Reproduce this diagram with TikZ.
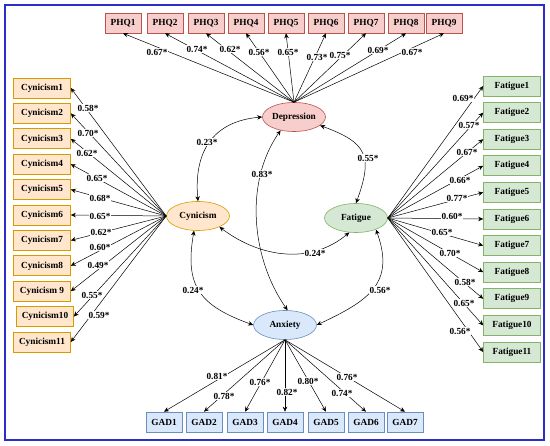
\documentclass[tikz,border=0pt]{standalone}
\usepackage{fontspec}
\setmainfont{Liberation Serif}
\usetikzlibrary{arrows.meta,shapes.geometric}
\definecolor{frameblue}{RGB}{45,45,200}
\definecolor{depfill}{RGB}{248,206,204}
\definecolor{depline}{RGB}{184,84,80}
\definecolor{cynfill}{RGB}{255,230,204}
\definecolor{cynline}{RGB}{215,155,0}
\definecolor{fatfill}{RGB}{213,232,212}
\definecolor{fatline}{RGB}{130,179,102}
\definecolor{anxfill}{RGB}{218,232,252}
\definecolor{anxline}{RGB}{108,142,191}
\tikzset{
  every node/.style={font=\fontsize{9.3}{11}\selectfont\bfseries},
  item/.style={rectangle, line width=0.6pt, minimum height=20pt, inner sep=1pt},
  latent/.style={ellipse, line width=0.6pt, minimum width=63pt, minimum height=29pt, inner sep=0pt},
  load/.style={-{Stealth[length=5pt,width=4.5pt]}, line width=0.5pt},
  corr/.style={{Stealth[length=5pt,width=4.5pt]}-{Stealth[length=5pt,width=4.5pt]}, line width=0.5pt},
  coef/.style={fill=white, inner sep=0.6pt}
}

\begin{document}
\begin{tikzpicture}[x=1pt,y=-1pt]
    \useasboundingbox (0,0) rectangle (550,446);
    \draw[frameblue, line width=1.6pt] (5,5) rectangle (544,440);

    % latent factors
    \node[latent, fill=depfill, draw=depline] (dep) at (294,117) {Depression};
    \node[latent, fill=cynfill, draw=cynline] (cyn) at (198,216) {Cynicism};
    \node[latent, fill=fatfill, draw=fatline] (fat) at (356,218) {Fatigue};
    \node[latent, fill=anxfill, draw=anxline] (anx) at (285,325) {Anxiety};

    % indicators
    \foreach \i/\x in {1/123,2/165,3/206,4/246,5/286,6/326,7/366,8/406,9/444}
      \node[item, minimum width=36pt, fill=depfill, draw=depline] (phq\i) at (\x,23) {PHQ\i};
    \foreach \i/\x/\t in {1/42/Cynicism1,2/42/Cynicism2,3/42/Cynicism3,4/42/Cynicism4,
                          5/42/Cynicism5,6/42/Cynicism6,7/42/Cynicism7,8/42/Cynicism8,
                          9/42/Cynicism 9,10/45/Cynicism10,11/42/Cynicism11}
      \node[item, minimum width=57pt, fill=cynfill, draw=cynline] (cyn\i) at (\x,{88+25.4*(\i-1)}) {\t};
    \foreach \i in {1,...,11}
      \node[item, minimum width=57pt, fill=fatfill, draw=fatline] (fat\i) at (512,{86+26.6*(\i-1)}) {Fatigue\i};
    \foreach \i/\x in {1/164,2/204,3/245,4/285,5/326,6/366,7/405}
      \node[item, minimum width=36pt, fill=anxfill, draw=anxline] (gad\i) at (\x,422) {GAD\i};

    % loadings
    \foreach \i in {1,...,9} \draw[load] (dep.north) -- (phq\i.south);
    \foreach \i in {1,...,11} \draw[load] (cyn.west) -- (cyn\i.east);
    \foreach \i in {1,...,11} \draw[load] (fat.east) -- (fat\i.west);
    \foreach \i in {1,...,7} \draw[load] (anx.south) -- (gad\i.north);

    % correlations
    \draw[corr] (cyn.north) to[out=95, in=185, looseness=1.2] (dep.west);
    \draw[corr] (dep.-18) to[out=-20, in=70, looseness=1.5] (fat.north);
    \draw[corr] (dep.-135) to[out=235, in=125, looseness=0.9] (anx.80);
    \draw[corr] (cyn.-27) to[out=-37, in=220] (fat.-115);
    \draw[corr] (cyn.-105) to[out=-100, in=160, looseness=1.3] (anx.west);
    \draw[corr] (fat.-30) to[out=-70, in=25, looseness=1.3] (anx.east);

    % coefficients
    \foreach \i/\x/\y/\v in {1/157/52/0.67*,2/197/49/0.74*,3/230/49/0.62*,4/259/52/0.56*,5/288/52/0.65*,
                             6/317/57/0.73*,7/340/55/0.75*,8/378/50/0.69*,9/412/52/0.67*}
      \node[coef] (lphq\i) at (\x,\y) {\v};
    \foreach \i/\x/\y/\v in {1/88/108/0.58*,2/88/133/0.70*,3/87/153/0.62*,4/97/178/0.65*,5/100/198/0.68*,
                             6/100/216/0.65*,7/101/232/0.62*,8/100/247/0.60*,9/98/265/0.49*,
                             10/92/295/0.55*,11/99/315/0.59*}
      \node[coef] (lcyn\i) at (\x,\y) {\v};
    \foreach \i/\x/\y/\v in {1/463/98/0.69*,2/469/125/0.57*,3/467/152/0.67*,4/460/180/0.66*,5/457/198/0.77*,
                             6/452/216/0.60*,7/442/232/0.65*,8/450/253/0.70*,9/465/282/0.58*,
                             10/464/303/0.65*,11/460/331/0.56*}
      \node[coef] (lfat\i) at (\x,\y) {\v};
    \foreach \i/\x/\y/\v in {1/217/376/0.81*,2/224/396/0.78*,3/260/382/0.76*,4/287/392/0.82*,
                             5/308/381/0.80*,6/342/393/0.74*,7/347/377/0.76*}
      \node[coef] (lgad\i) at (\x,\y) {\v};
    \node[coef] (rcd) at (207,142) {0.23*};
    \node[coef] (rdf) at (368,158) {0.55*};
    \node[coef] (rda) at (262,174) {0.83*};
    \node[coef] (rcf) at (315,253) {0.24*};
    \node[coef] (rca) at (193,290) {0.24*};
    \node[coef] (rfa) at (380,290) {0.56*};
\end{tikzpicture}
\end{document}
